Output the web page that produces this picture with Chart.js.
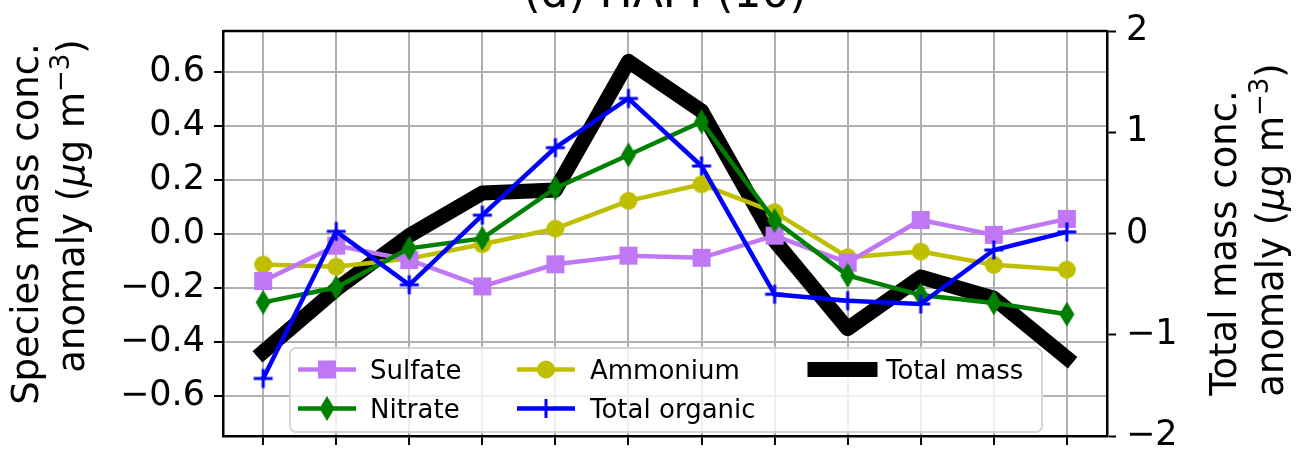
<!DOCTYPE html>
<html>
<head>
<meta charset="utf-8">
<script src="https://cdn.jsdelivr.net/npm/chart.js@4"></script>
<style>
  body { margin: 0; background: #fff; }
  canvas { display: block; }
</style>
</head>
<body>
<canvas id="anomaly-chart" width="1301" height="467"></canvas>
<script>
// x positions (tick labels are cut off in the original)
var pointIndex = [0, 1, 2, 3, 4, 5, 6, 7, 8, 9, 10, 11];

// species anomalies, left axis (ug m-3)
var sulfate = [-0.176, -0.045, -0.098, -0.196, -0.114, -0.082, -0.090, -0.008, -0.108, 0.050, -0.005, 0.054];
var nitrate = [-0.255, -0.200, -0.055, -0.018, 0.168, 0.291, 0.414, 0.048, -0.155, -0.228, -0.257, -0.299];
var ammonium = [-0.115, -0.123, -0.093, -0.040, 0.018, 0.121, 0.182, 0.079, -0.088, -0.067, -0.116, -0.134];
var totalOrganic = [-0.537, 0.008, -0.190, 0.068, 0.318, 0.500, 0.250, -0.225, -0.249, -0.261, -0.061, 0.006];

// total mass anomaly, right axis (ug m-3)
var totalMass = [-1.17, -0.55, -0.02, 0.40, 0.43, 1.70, 1.21, -0.07, -0.94, -0.43, -0.64, -1.23];

var leftTicks = [-0.6, -0.4, -0.2, 0.0, 0.2, 0.4, 0.6];
var rightTicks = [-2, -1, 0, 1, 2];

var FONT = "'DejaVu Sans', sans-serif";

function pts(arr) {
    return arr.map(function (v, i) { return { x: pointIndex[i], y: v }; });
}

function minus(s) { return String(s).replace('-', '\u2212'); }

// marker shapes, shared by the lines and the legend
function markerCanvas(w, h, draw) {
    var c = document.createElement('canvas');
    c.width = w; c.height = h;
    draw(c.getContext('2d'), w / 2, h / 2);
    return c;
}
function drawSquare(ctx, x, y, col) { ctx.fillStyle = col; ctx.fillRect(x - 9, y - 9, 18, 18); }
function drawCircle(ctx, x, y, col) { ctx.fillStyle = col; ctx.beginPath(); ctx.arc(x, y, 9, 0, Math.PI * 2); ctx.fill(); }
function drawThinDiamond(ctx, x, y, col) {
    ctx.fillStyle = col; ctx.beginPath();
    ctx.moveTo(x, y - 12.5); ctx.lineTo(x + 7.5, y); ctx.lineTo(x, y + 12.5); ctx.lineTo(x - 7.5, y);
    ctx.closePath(); ctx.fill();
}
function drawPlus(ctx, x, y, col) {
    ctx.strokeStyle = col; ctx.lineWidth = 3; ctx.beginPath();
    ctx.moveTo(x - 9.5, y); ctx.lineTo(x + 9.5, y); ctx.moveTo(x, y - 9.5); ctx.lineTo(x, y + 9.5);
    ctx.stroke();
}

var cSulfate = '#bf77f6', cNitrate = '#008000', cAmmonium = '#bfbf00', cOrganic = '#0000ff', cTotal = '#000000';

var mSquare = markerCanvas(20, 20, function (c, x, y) { drawSquare(c, x, y, cSulfate); });
var mDiamond = markerCanvas(18, 28, function (c, x, y) { drawThinDiamond(c, x, y, cNitrate); });
var mCircle = markerCanvas(20, 20, function (c, x, y) { drawCircle(c, x, y, cAmmonium); });
var mPlus = markerCanvas(22, 22, function (c, x, y) { drawPlus(c, x, y, cOrganic); });

// frame, title, axis labels and the two-row legend
var decor = {
    id: 'decor',
    afterDatasetsDraw: function (chart) {
        var ctx = chart.ctx, a = chart.chartArea;
        ctx.save();
        ctx.strokeStyle = '#000';
        ctx.lineWidth = 2.5;
        ctx.beginPath();
        ctx.moveTo(a.left, a.top); ctx.lineTo(a.right, a.top);
        ctx.stroke();
        ctx.restore();
    },
    afterDraw: function (chart) {
        var ctx = chart.ctx, a = chart.chartArea;
        ctx.save();
        ctx.fillStyle = '#000';
        ctx.font = '44px ' + FONT;
        ctx.textAlign = 'center';
        ctx.textBaseline = 'alphabetic';
        ctx.fillText('(d) HAPI (10)', (a.left + a.right) / 2, 7);

        var big = '37px ' + FONT, ital = 'italic 37px ' + FONT, small = '26px ' + FONT;
        function unitParts() {
            return [
                { t: 'anomaly (', f: big },
                { t: '\u03bc', f: ital },
                { t: 'g m', f: big },
                { t: '\u22123', f: small, rise: 15 },
                { t: ')', f: big }
            ];
        }
        drawLabel(ctx, [{ t: 'Species mass conc.', f: big }], 38, 224);
        drawLabel(ctx, unitParts(), 84, 206);
        drawLabel(ctx, [{ t: 'Total mass conc.', f: big }], 1236, 243);
        drawLabel(ctx, unitParts(), 1283, 230);

        // legend
        var bx = 290, by = 348, bw = 752, bh = 84, r = 6;
        ctx.beginPath();
        ctx.moveTo(bx + r, by);
        ctx.arcTo(bx + bw, by, bx + bw, by + bh, r);
        ctx.arcTo(bx + bw, by + bh, bx, by + bh, r);
        ctx.arcTo(bx, by + bh, bx, by, r);
        ctx.arcTo(bx, by, bx + bw, by, r);
        ctx.closePath();
        ctx.fillStyle = 'rgba(255,255,255,0.8)';
        ctx.fill();
        ctx.strokeStyle = '#d6d6d6';
        ctx.lineWidth = 2;
        ctx.stroke();

        var items = [
            { label: 'Sulfate', col: cSulfate, m: drawSquare, x0: 298, x1: 356, tx: 370, y: 369.5 },
            { label: 'Nitrate', col: cNitrate, m: drawThinDiamond, x0: 298, x1: 356, tx: 370, y: 408.5 },
            { label: 'Ammonium', col: cAmmonium, m: drawCircle, x0: 517, x1: 575, tx: 590, y: 369.5 },
            { label: 'Total organic', col: cOrganic, m: drawPlus, x0: 517, x1: 575, tx: 590, y: 408.5 },
            { label: 'Total mass', col: cTotal, m: null, x0: 815, x1: 870, tx: 886, y: 369.5 }
        ];
        ctx.font = '26px ' + FONT;
        ctx.textAlign = 'left';
        items.forEach(function (it) {
            ctx.strokeStyle = it.col;
            ctx.lineWidth = it.m ? 4.5 : 15;
            ctx.lineCap = it.m ? 'butt' : 'square';
            ctx.beginPath();
            ctx.moveTo(it.x0, it.y); ctx.lineTo(it.x1, it.y);
            ctx.stroke();
            if (it.m) it.m(ctx, (it.x0 + it.x1) / 2, it.y, it.col);
            ctx.fillStyle = '#000';
            ctx.fillText(it.label, it.tx, it.y + 9.5);
        });
        ctx.restore();
    }
};

function drawLabel(ctx, parts, baseX, centerY) {
    ctx.save();
    ctx.translate(baseX, centerY);
    ctx.rotate(-Math.PI / 2);
    var total = 0;
    parts.forEach(function (p) { ctx.font = p.f; p.w = ctx.measureText(p.t).width; total += p.w; });
    var u = -total / 2;
    ctx.textAlign = 'left';
    ctx.textBaseline = 'alphabetic';
    ctx.fillStyle = '#000';
    parts.forEach(function (p) { ctx.font = p.f; ctx.fillText(p.t, u, -(p.rise || 0)); u += p.w; });
    ctx.restore();
}

var tickFont = { family: FONT, size: 35 };

var config = {
    type: 'line',
    data: {
        datasets: [
            { label: 'Sulfate', data: pts(sulfate), borderColor: cSulfate, borderWidth: 4.5, pointStyle: mSquare, pointRadius: 9, yAxisID: 'y', order: 3 },
            { label: 'Nitrate', data: pts(nitrate), borderColor: cNitrate, borderWidth: 4.5, pointStyle: mDiamond, pointRadius: 9, yAxisID: 'y', order: 2 },
            { label: 'Ammonium', data: pts(ammonium), borderColor: cAmmonium, borderWidth: 4.5, pointStyle: mCircle, pointRadius: 9, yAxisID: 'y', order: 4 },
            { label: 'Total organic', data: pts(totalOrganic), borderColor: cOrganic, borderWidth: 4.5, pointStyle: mPlus, pointRadius: 9, yAxisID: 'y', order: 1 },
            { label: 'Total mass', data: pts(totalMass), borderColor: cTotal, borderWidth: 15, borderJoinStyle: 'round', borderCapStyle: 'square', pointRadius: 0, yAxisID: 'y1', order: 5 }
        ]
    },
    options: {
        responsive: false,
        animation: false,
        events: [],
        devicePixelRatio: 1,
        layout: { padding: { top: 22, left: 0, right: 0, bottom: 0 } },
        plugins: { legend: { display: false }, title: { display: false }, tooltip: { enabled: false } },
        scales: {
            x: {
                type: 'linear',
                min: -0.55,
                max: 11.55,
                afterBuildTicks: function (s) { s.ticks = pointIndex.map(function (v) { return { value: v }; }); },
                ticks: { display: false },
                grid: { color: '#b0b0b0', lineWidth: 2, tickLength: 9, tickColor: '#000', tickWidth: 2 },
                border: { color: '#000', width: 2.5 },
                afterFit: function (s) { s.height = 19; }
            },
            y: {
                position: 'left',
                min: -0.75,
                max: 0.75,
                afterBuildTicks: function (s) { s.ticks = leftTicks.map(function (v) { return { value: v }; }); },
                ticks: {
                    font: tickFont, color: '#000', padding: 9,
                    callback: function (v) { return minus(Number(v).toFixed(1)); }
                },
                grid: { color: '#b0b0b0', lineWidth: 2, tickLength: 9, tickColor: '#000', tickWidth: 2 },
                border: { color: '#000', width: 2.5 },
                afterFit: function (s) { s.width = 223; }
            },
            y1: {
                position: 'right',
                min: -2,
                max: 2,
                afterBuildTicks: function (s) { s.ticks = rightTicks.map(function (v) { return { value: v }; }); },
                ticks: {
                    font: tickFont, color: '#000', padding: 10,
                    callback: function (v) { return minus(v); }
                },
                grid: { drawOnChartArea: false, tickLength: 9, tickColor: '#000', tickWidth: 2 },
                border: { color: '#000', width: 2.5 },
                afterFit: function (s) { s.width = 194; }
            }
        }
    },
    plugins: [decor]
};

var ctx = document.getElementById('anomaly-chart').getContext('2d');
new Chart(ctx, config);
</script>
</body>
</html>
